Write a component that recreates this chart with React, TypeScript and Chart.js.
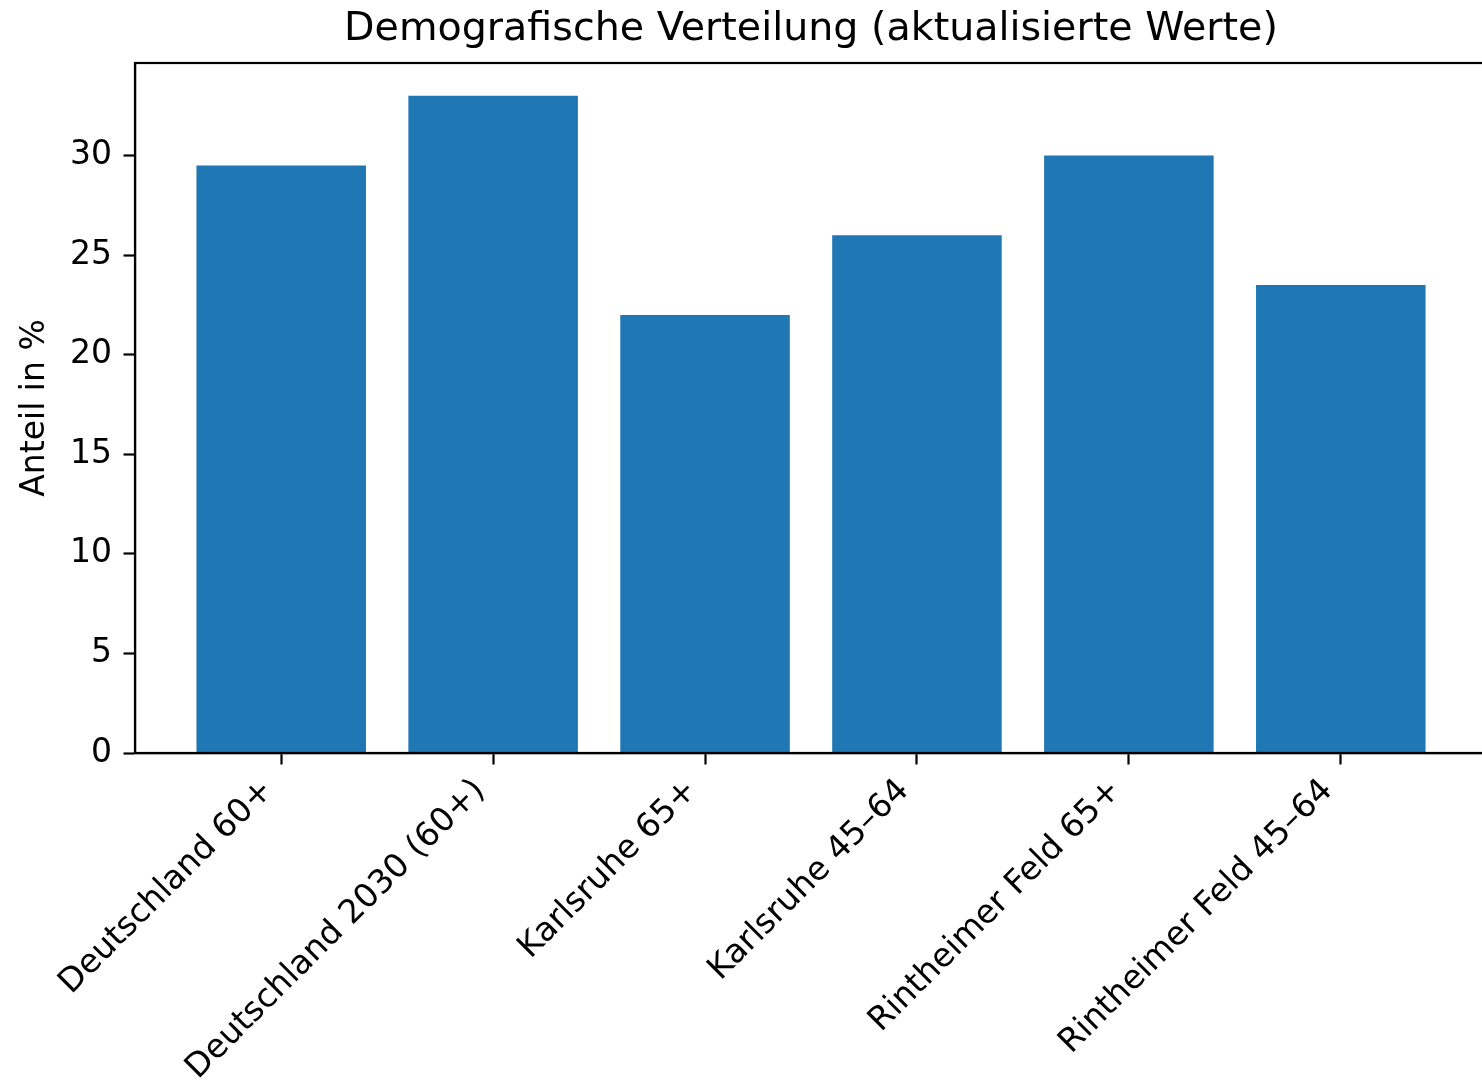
import React, { useEffect, useRef } from "react";
import { Chart, registerables } from "chart.js";

Chart.register(...registerables);

const categories = [
  "Deutschland 60+",
  "Deutschland 2030 (60+)",
  "Karlsruhe 65+",
  "Karlsruhe 45–64",
  "Rintheimer Feld 65+",
  "Rintheimer Feld 45–64",
];
const values = [29.5, 33, 22, 26, 30, 23.5];
const yTicks = [0, 5, 10, 15, 20, 25, 30];
const titleText = "Demografische Verteilung (aktualisierte Werte)";
const yAxisLabel = "Anteil in %";

const FONT = "'DejaVu Sans', sans-serif";
const BAR_COLOR = "#1f77b4";
const LINE_W = 2.2;

const framePlugin = {
  id: "frame",
  afterDraw(chart: any) {
    const { ctx, chartArea } = chart;
    const { left, top, right, bottom } = chartArea;
    ctx.save();
    ctx.strokeStyle = "#000";
    ctx.lineWidth = LINE_W;
    ctx.strokeRect(left, top, right - left, bottom - top);
    ctx.restore();
  },
};

export default function App() {
  const ref = useRef<HTMLCanvasElement | null>(null);

  useEffect(() => {
    if (!ref.current) return;
    const chart = new Chart(ref.current, {
      type: "bar",
      data: {
        datasets: [
          {
            data: values.map((v, i) => ({ x: i, y: v })),
            backgroundColor: BAR_COLOR,
            borderWidth: 0,
            barPercentage: 0.8,
            categoryPercentage: 1,
          },
        ],
      },
      options: {
        responsive: false,
        animation: false,
        devicePixelRatio: 1,
        layout: { padding: { left: 0, right: 13, top: 0, bottom: 0 } },
        plugins: {
          legend: { display: false },
          tooltip: { enabled: false },
          title: {
            display: true,
            text: titleText,
            fullSize: false,
            color: "#000",
            font: { family: FONT, size: 39.6, weight: "normal", lineHeight: 1 },
            padding: { top: 9.5, bottom: 13.9 },
          },
        },
        scales: {
          x: {
            type: "linear",
            min: -0.69,
            max: 5.69,
            offset: false,
            afterBuildTicks: (s: any) => {
              s.ticks = categories.map((_, i) => ({ value: i }));
            },
            afterFit: (s: any) => {
              s.height = 332;
            },
            ticks: {
              autoSkip: false,
              minRotation: 45,
              maxRotation: 45,
              padding: 7,
              labelOffset: -13,
              color: "#000",
              font: { family: FONT, size: 33 },
              callback: (_v: any, i: number) => categories[i],
            },
            grid: {
              offset: false,
              drawOnChartArea: false,
              drawTicks: true,
              tickLength: 11.5,
              tickColor: "#000",
              tickWidth: LINE_W,
            },
            border: { display: true, color: "#000", width: LINE_W },
          },
          y: {
            type: "linear",
            min: 0,
            max: 34.65,
            afterBuildTicks: (s: any) => {
              s.ticks = yTicks.map((v) => ({ value: v }));
            },
            afterFit: (s: any) => {
              s.width = 135;
            },
            ticks: {
              padding: 11.5,
              color: "#000",
              font: { family: FONT, size: 33 },
            },
            grid: {
              drawOnChartArea: false,
              drawTicks: true,
              tickLength: 11.5,
              tickColor: "#000",
              tickWidth: LINE_W,
            },
            border: { display: true, color: "#000", width: LINE_W },
            title: {
              display: true,
              text: yAxisLabel,
              color: "#000",
              font: { family: FONT, size: 33 },
              padding: { top: 16, bottom: 0 },
            },
          },
        },
      },
      plugins: [framePlugin],
    } as any);
    return () => chart.destroy();
  }, []);

  return (
    <div
      style={{
        position: "fixed",
        left: 0,
        top: 0,
        width: 1482,
        height: 1085,
        overflow: "hidden",
        background: "#fff",
      }}
    >
      <canvas ref={ref} width={1500} height={1085} style={{ display: "block" }} />
    </div>
  );
}
